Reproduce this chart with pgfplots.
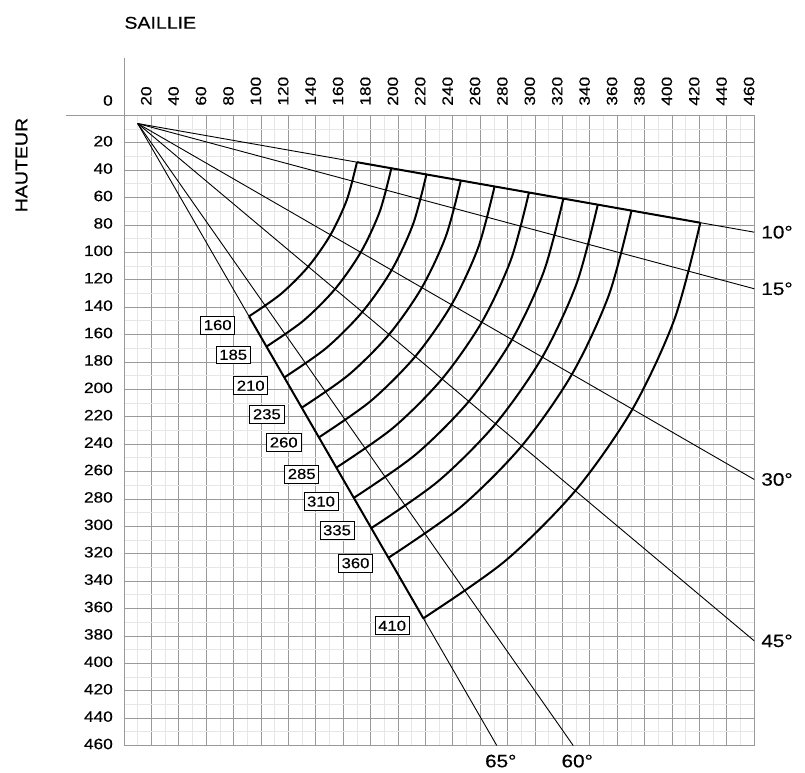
\documentclass[border=0pt]{standalone}
\usepackage{fontspec}
\setmainfont{Liberation Sans}[FakeStretch=1.15, FakeBold=0.4]
\usepackage{pgfplots}
\pgfplotsset{compat=1.18}
\definecolor{majgrid}{HTML}{9A9A9A}
\definecolor{mingrid}{HTML}{E6E6E6}
\newcommand{\tickfont}{\fontsize{15}{18}\selectfont}
\newcommand{\boxfont}{\fontsize{14.5}{17}\selectfont}
\newcommand{\bigfont}{\fontsize{17}{20}\selectfont}
\newcommand{\angfont}{\fontsize{18}{21}\selectfont}
\tikzset{
  boxlab/.style={draw=black, fill=white, line width=0.7pt, inner xsep=3.2pt, inner ysep=3.8pt, font=\boxfont},
  anglab/.style={inner sep=0pt, font=\angfont},
}
\begin{document}
\begin{tikzpicture}
\useasboundingbox (-124pt,115.3pt) rectangle (681pt,-656.7pt);
\begin{axis}[
  at={(0pt,0pt)}, anchor=north west,
  x=1.37pt, y=1.37pt, y dir=reverse,
  xmin=0, xmax=460, ymin=0, ymax=460,
  clip=false,
  xtick={20,40,...,460}, ytick={20,40,...,460},
  minor xtick={10,30,...,450}, minor ytick={10,30,...,450},
  grid=both,
  major grid style={draw=majgrid, line width=0.8pt},
  minor grid style={draw=mingrid, line width=0.8pt},
  axis line style={draw=majgrid, line width=0.8pt},
  major tick length=0pt, minor tick length=0pt,
  xticklabel pos=upper,
  /pgf/number format/assume math mode=true,
  xticklabel style={rotate=90, anchor=base west, inner xsep=9.5pt, inner ysep=0pt, font=\tickfont},
  yticklabel style={anchor=east, inner xsep=11pt, inner ysep=0pt, yshift=1.5pt, font=\tickfont},
]
% extended axis lines
\draw[majgrid, line width=0.8pt] (axis cs:-42,0) -- (axis cs:0,0);
\draw[majgrid, line width=0.8pt] (axis cs:0,-42) -- (axis cs:0,0);

% fan lines from the pivot
\addplot[black, line width=0.9pt] coordinates {(10,6) (460,85.3)};
\addplot[black, line width=0.9pt] coordinates {(10,6) (460,126.6)};
\addplot[black, line width=0.9pt] coordinates {(10,6) (460,265.8)};
\addplot[black, line width=0.9pt] coordinates {(10,6) (460,383.6)};
\addplot[black, line width=0.9pt] coordinates {(10,6) (272.1,460)};
\addplot[black, line width=0.9pt] coordinates {(10,6) (327.9,460)};

% thick boundaries
\addplot[black, line width=2pt] coordinates {(170.03,34.22) (420.67,78.41)};
\addplot[black, line width=2pt] coordinates {(91.25,146.73) (218.5,367.13)};

% arcs
\addplot[black, line width=2pt, smooth] coordinates {(170.03,34.22) (162.70,61.58) (150.73,87.25) (134.48,110.45) (114.45,130.48) (91.25,146.73)};
\addplot[black, line width=2pt, smooth] coordinates {(195.14,38.65) (186.66,70.30) (172.81,100) (154.02,126.84) (130.84,150.02) (104,168.81)};
\addplot[black, line width=2pt, smooth] coordinates {(220.75,43.16) (211.09,79.19) (195.33,113) (173.93,143.56) (147.56,169.93) (117,191.33)};
\addplot[black, line width=2pt, smooth] coordinates {(245.86,47.59) (235.06,87.91) (217.41,125.75) (193.47,159.95) (163.95,189.47) (129.75,213.41)};
\addplot[black, line width=2pt, smooth] coordinates {(270.48,51.93) (258.55,96.46) (239.06,138.25) (212.62,176.02) (180.02,208.62) (142.25,235.06)};
\addplot[black, line width=2pt, smooth] coordinates {(295.59,56.36) (282.51,105.19) (261.15,151) (232.15,192.41) (196.41,228.15) (155,257.15)};
\addplot[black, line width=2pt, smooth] coordinates {(320.71,60.79) (306.47,113.91) (283.23,163.75) (251.69,208.80) (212.80,247.69) (167.75,279.23)};
\addplot[black, line width=2pt, smooth] coordinates {(345.82,65.21) (330.43,122.63) (305.32,176.5) (271.22,225.19) (229.19,267.22) (180.5,301.32)};
\addplot[black, line width=2pt, smooth] coordinates {(370.44,69.56) (353.93,131.18) (326.97,189) (290.37,241.26) (245.26,286.37) (193,322.97)};
\addplot[black, line width=2pt, smooth] coordinates {(420.67,78.41) (401.85,148.62) (371.13,214.5) (329.44,274.04) (278.04,325.44) (218.5,367.13)};

% boxed length labels
\node[boxlab] at (axis cs:68.4,153.1) {160};
\node[boxlab] at (axis cs:79.7,174.8) {185};
\node[boxlab] at (axis cs:92.5,197.4) {210};
\node[boxlab] at (axis cs:104.3,218.2) {235};
\node[boxlab] at (axis cs:116.6,238.8) {260};
\node[boxlab] at (axis cs:129.7,261.8) {285};
\node[boxlab] at (axis cs:143.8,281.9) {310};
\node[boxlab] at (axis cs:155.5,302.9) {335};
\node[boxlab] at (axis cs:169,326.9) {360};
\node[boxlab] at (axis cs:195.7,372.6) {410};

% angle labels
\node[anglab, anchor=west, xshift=7pt] at (axis cs:460,85.3) {10°};
\node[anglab, anchor=west, xshift=7pt] at (axis cs:460,126.6) {15°};
\node[anglab, anchor=west, xshift=7pt] at (axis cs:460,265.8) {30°};
\node[anglab, anchor=west, xshift=7pt] at (axis cs:460,383.6) {45°};
\node[anglab, anchor=north, yshift=-9pt, xshift=4pt] at (axis cs:272.1,460) {65°};
\node[anglab, anchor=north, yshift=-9pt, xshift=4pt] at (axis cs:327.9,460) {60°};

% titles
\node[font=\tickfont, inner sep=0pt] at (axis cs:-11.7,-10.8) {0};
\node[font=\bigfont, inner sep=0pt] at (axis cs:26.5,-67.5) {SAILLIE};
\node[font=\bigfont, inner sep=0pt, rotate=90] at (axis cs:-74.7,36.3) {HAUTEUR};
\end{axis}
\end{tikzpicture}
\end{document}
